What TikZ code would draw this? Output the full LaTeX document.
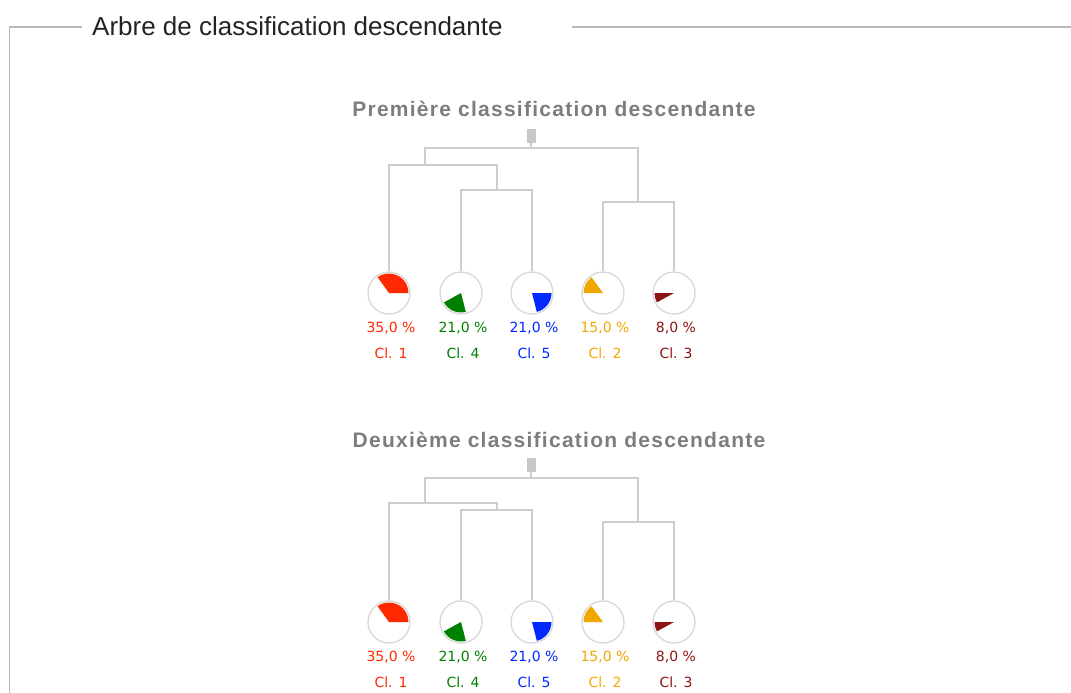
\documentclass[tikz,border=0pt]{standalone}
\usepackage{fontspec}
\setmainfont{Liberation Sans}
\newfontfamily\ttlfont[LetterSpace=6]{Liberation Sans}
\newfontfamily\labfont{DejaVu Sans}
\definecolor{cr}{RGB}{255,40,0}
\definecolor{cg}{RGB}{0,128,0}
\definecolor{cb}{RGB}{0,40,255}
\definecolor{co}{RGB}{240,168,0}
\definecolor{cbr}{RGB}{140,20,20}
\definecolor{framegray}{RGB}{185,185,185}
\definecolor{treegray}{RGB}{205,205,205}
\definecolor{circgray}{RGB}{215,215,215}
\definecolor{rootgray}{RGB}{200,200,200}
\definecolor{titlegray}{RGB}{125,125,125}
\definecolor{maintext}{RGB}{35,35,35}
\tikzset{
  frameline/.style={draw=framegray, line width=1.5pt},
  tree/.style={draw=treegray, line width=1.5pt},
  piecircle/.style={circle, draw=circgray, line width=1.3pt, minimum size=42pt, inner sep=0pt},
  rootbox/.style={fill=rootgray, minimum width=9pt, minimum height=14pt, inner sep=0pt},
  pct/.style={font=\labfont\fontsize{14}{16}\selectfont, inner sep=0pt},
  dtitle/.style={font=\ttlfont\bfseries\fontsize{21}{24}\selectfont, text=titlegray, inner sep=0pt, anchor=base},
  maintitle/.style={font=\fontsize{26}{30}\selectfont, text=maintext, inner sep=0pt, anchor=base west},
}
\begin{document}
\begin{tikzpicture}[x=1pt,y=1pt]
\useasboundingbox (0,0) rectangle (1071,-693);
% frame
\node[maintitle] (mt) at (92,-36) {Arbre de classification descendante};
\coordinate (fl) at (82,-27);
\coordinate (fc) at (9.5,-27);
\coordinate (fb) at (9.5,-693);
\coordinate (fr1) at (572,-27);
\coordinate (fr2) at (1071,-27);
\draw[frameline] (fl) -- (fc) -- (fb);
\draw[frameline] (fr1) -- (fr2);
% dendrograms
\foreach \yy/\pre/\ttl/\tx/\tb/\rb/\ay/\gy/\by in
  {293/a/Première/554/176/145/128/103/91,
   622/b/Deuxième/559/175/144/119/112/100}{
  \begin{scope}[yshift=-\yy pt]
    \node[dtitle] (\pre t) at (\tx,\tb) {\ttl{} classification descendante};
    \node[rootbox] (\pre r) at (531,157) {};
    \coordinate (\pre rb) at (531,\rb);
    \coordinate (\pre A) at (425,\ay);
    \coordinate (\pre G) at (497,\gy);
    \coordinate (\pre B) at (638,\by);
    \foreach \x/\col/\sa/\ea/\pc/\cl/\nm in
      {389/cr/0/126/{35,0}/1/c1,
       461/cg/208.8/284.4/{21,0}/4/c4,
       532/cb/284.4/360/{21,0}/5/c5,
       603/co/126/180/{15,0}/2/c2,
       674/cbr/180/208.8/{8,0}/3/c3}{
      \node[piecircle] (\pre\nm) at (\x,0) {};
      \fill[\col] (\pre\nm.center) -- ++(\sa:19.5) arc[start angle=\sa, end angle=\ea, radius=19.5] -- cycle;
      \node[pct, text=\col] (\pre\nm p) at (\x+2,-35) {\pc\ \%};
      \node[pct, text=\col] (\pre\nm l) at (\x+2,-60) {Cl. \cl};
    }
    \draw[tree] (\pre r.south) -- (\pre rb);
    \draw[tree] (\pre A) |- (\pre rb) -| (\pre B);
    \draw[tree] (\pre c1.north) |- (\pre A) -| (\pre G);
    \draw[tree] (\pre c4.north) |- (\pre G) -| (\pre c5.north);
    \draw[tree] (\pre c2.north) |- (\pre B) -| (\pre c3.north);
  \end{scope}
}
\end{tikzpicture}
\end{document}
